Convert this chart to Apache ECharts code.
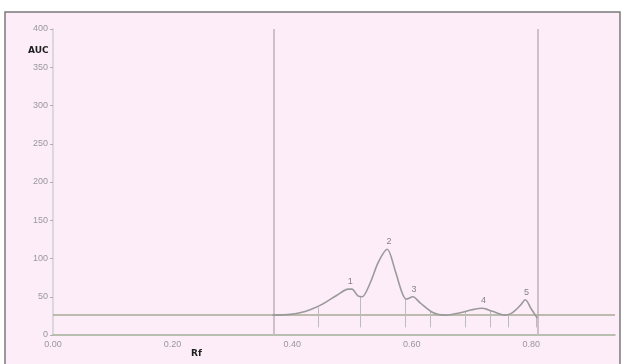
<!DOCTYPE html>
<html>
<head>
<meta charset="utf-8">
<script src="https://cdn.jsdelivr.net/npm/echarts@6/dist/echarts.min.js"></script>
<style>
  html, body { margin: 0; padding: 0; background: #ffffff; }
  #chart { width: 624px; height: 364px; }
</style>
</head>
<body>
<div id="chart"></div>
<script>
// densitogram trace (Rf, AUC)
const traceRf = [0.367, 0.397, 0.413, 0.430, 0.450, 0.475, 0.494, 0.500, 0.510, 0.517, 0.531, 0.544, 0.559, 0.572, 0.584, 0.591, 0.602, 0.614, 0.636, 0.656, 0.681, 0.701, 0.718, 0.735, 0.756, 0.768, 0.782, 0.790, 0.800, 0.810]
const traceAuc = [26, 27, 29, 33, 40, 52, 60, 60, 51, 50, 69, 95, 112, 85, 55, 47, 50, 42, 29, 26, 29, 33, 35, 31, 26, 29, 39, 46, 34, 22]

// peak numbers
const peakIds = ['1', '2', '3', '4', '5']
const peakRf = [0.497, 0.562, 0.604, 0.720, 0.792]
const peakAuc = [60, 112, 50, 35, 46]

// peak start / end markers
const boundaryRf = [0.444, 0.514, 0.590, 0.631, 0.690, 0.731, 0.762, 0.808]
const boundaryTop = [36, 50, 47, 31, 30, 32, 28, 24]
const boundaryLow = 10

// application position and solvent front
const frontRf = [0.367, 0.81]
const baselineAuc = 26

const yTicks = [0, 50, 100, 150, 200, 250, 300, 350, 400]

const chart = echarts.init(document.getElementById('chart'), null, { renderer: 'canvas' })

const dropLines = boundaryRf.map((rf, i) => [
    { coord: [rf, boundaryTop[i]] },
    { coord: [rf, boundaryLow] }
])

const option = {
    animation: false,
    backgroundColor: '#ffffff',
    graphic: [
        {
            type: 'rect',
            z: -10,
            shape: { x: 5, y: 12, width: 615, height: 360 },
            style: { fill: '#fcedf9', stroke: '#7a7a7a', lineWidth: 1.5 }
        },
        {
            type: 'text',
            left: 28,
            top: 46,
            style: { text: 'AUC', font: 'bold 9px "DejaVu Sans"', fill: '#1e1e1e' }
        },
        {
            type: 'text',
            left: 191,
            top: 349,
            style: { text: 'Rf', font: 'bold 9px "DejaVu Sans"', fill: '#1e1e1e' }
        }
    ],
    grid: {
        left: 53,
        right: 9,
        top: 29,
        bottom: 29
    },
    xAxis: {
        type: 'value',
        min: 0,
        max: 0.94,
        interval: 0.2,
        axisLine: { show: true, lineStyle: { color: '#a3b096', width: 1.5 } },
        axisTick: { show: false },
        splitLine: { show: false },
        axisLabel: {
            color: '#999999',
            fontSize: 9,
            margin: 5,
            formatter: v => v.toFixed(2),
            showMaxLabel: false
        }
    },
    yAxis: {
        type: 'value',
        min: 0,
        max: 400,
        interval: 50,
        axisLine: { show: true, lineStyle: { color: '#d2cfd2', width: 1.5 } },
        axisTick: { show: true, length: 3, lineStyle: { color: '#b0b0b0' } },
        splitLine: { show: false },
        axisLabel: {
            color: '#999999',
            fontSize: 9,
            margin: 5,
            formatter: v => (yTicks.indexOf(v) >= 0 ? String(v) : '')
        }
    },
    series: [
        {
            type: 'line',
            data: traceRf.map((rf, i) => [rf, traceAuc[i]]),
            symbol: 'none',
            smooth: 0.3,
            lineStyle: { color: '#9a9a9a', width: 1.6 },
            z: 5,
            markLine: {
                silent: true,
                symbol: 'none',
                label: { show: false },
                data: [
                    ...frontRf.map(rf => ({
                        xAxis: rf,
                        lineStyle: { color: '#cbb9c8', width: 1.8, type: 'solid' }
                    })),
                    {
                        yAxis: baselineAuc,
                        lineStyle: { color: '#a9a994', width: 1.5, type: 'solid' }
                    },
                    ...dropLines.map(seg => [
                        { ...seg[0], lineStyle: { color: '#bcbcbc', width: 1, type: 'solid' } },
                        seg[1]
                    ])
                ]
            }
        },
        {
            type: 'scatter',
            data: peakRf.map((rf, i) => ({ value: [rf, peakAuc[i]], name: peakIds[i] })),
            symbolSize: 0,
            z: 6,
            label: {
                show: true,
                position: 'top',
                distance: 3,
                formatter: p => p.name,
                color: '#666666',
                fontSize: 9
            }
        }
    ]
}

chart.setOption(option)
</script>
</body>
</html>
